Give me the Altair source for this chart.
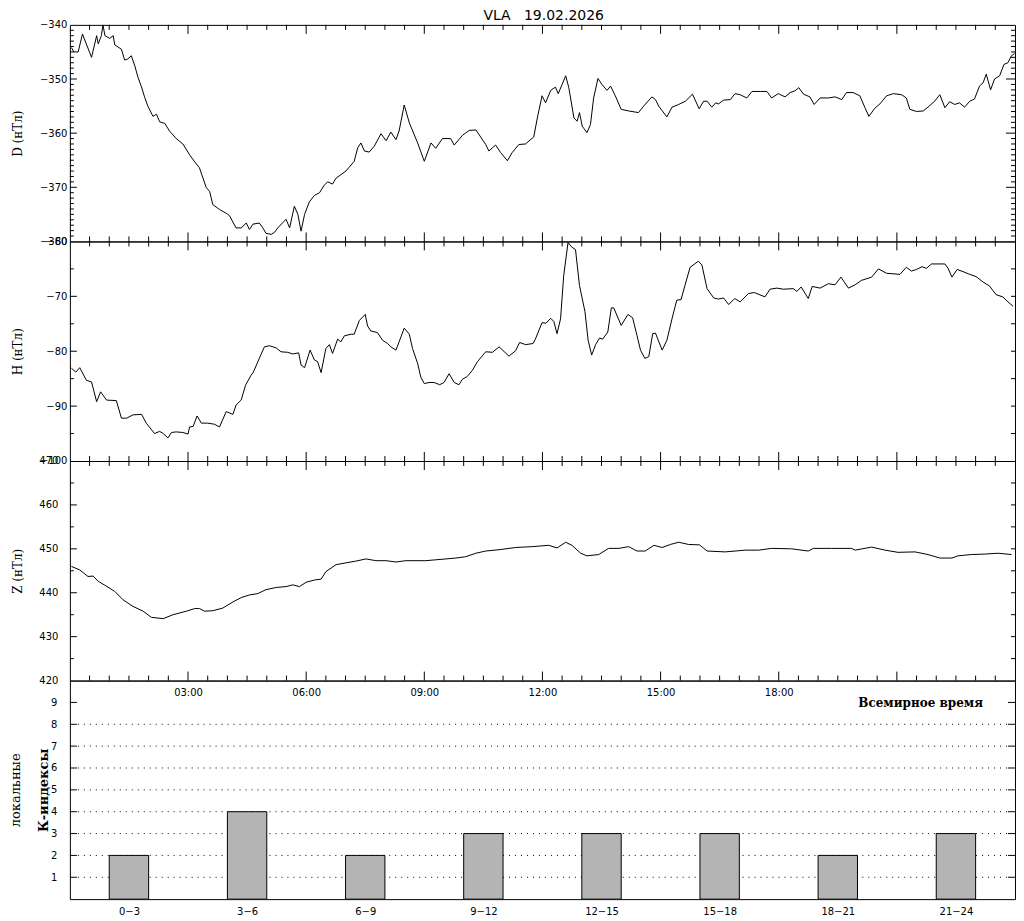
import json
import altair as alt
import pandas as pd

# ---------------- data ----------------
t_d = [0.04, 0.10, 0.21, 0.32, 0.55, 0.68, 0.72, 0.80, 0.84, 0.89, 1.01, 1.10, 1.14, 1.31, 1.39, 1.47,
       1.56, 1.65, 1.73, 1.82, 1.90, 1.98, 2.11, 2.20, 2.28, 2.41, 2.53, 2.70, 2.87, 3.04, 3.17, 3.29,
       3.38, 3.46, 3.55, 3.63, 3.80, 3.97, 4.05, 4.22, 4.35, 4.48, 4.56, 4.65, 4.81, 4.90, 4.98, 5.11,
       5.20, 5.28, 5.41, 5.49, 5.58, 5.70, 5.79, 5.87, 5.96, 6.08, 6.21, 6.34, 6.46, 6.55, 6.67, 6.76,
       7.01, 7.22, 7.31, 7.39, 7.48, 7.60, 7.73, 7.90, 8.03, 8.15, 8.28, 8.36, 8.49, 8.62, 8.83, 9.00,
       9.17, 9.29, 9.46, 9.67, 9.76, 9.97, 10.14, 10.31, 10.56, 10.64, 10.81, 10.94, 11.11, 11.23, 11.40,
       11.57, 11.78, 11.87, 11.99, 12.08, 12.21, 12.33, 12.40, 12.50, 12.59, 12.67, 12.80, 12.88, 12.94,
       13.01, 13.13, 13.22, 13.30, 13.41, 13.51, 13.64, 13.73, 13.85, 14.00, 14.19, 14.44, 14.57, 14.78,
       14.87, 14.95, 15.16, 15.29, 15.46, 15.63, 15.81, 15.98, 16.09, 16.18, 16.30, 16.40, 16.47, 16.60,
       16.77, 16.89, 17.02, 17.19, 17.32, 17.53, 17.70, 17.82, 17.99, 18.16, 18.29, 18.41, 18.51, 18.63,
       18.79, 18.90, 19.05, 19.26, 19.43, 19.60, 19.72, 19.89, 20.06, 20.19, 20.29, 20.44, 20.57, 20.74,
       20.91, 21.12, 21.24, 21.33, 21.50, 21.67, 21.79, 21.96, 22.09, 22.22, 22.34, 22.47, 22.59, 22.72,
       22.85, 22.97, 23.10, 23.19, 23.27, 23.38, 23.48, 23.61, 23.72, 23.82, 23.91, 23.99]
d_vals = [-344.2, -345.0, -345.0, -341.7, -346.0, -342.0, -343.5, -342.0, -340.0, -342.0, -342.5, -342.0,
          -343.7, -344.5, -346.5, -346.3, -345.7, -347.6, -349.7, -351.5, -353.4, -355.0, -356.9, -356.5,
          -357.9, -358.2, -359.6, -361.0, -362.0, -364.0, -365.3, -366.4, -368.3, -370.0, -370.8, -373.2,
          -374.1, -374.8, -375.2, -377.5, -377.5, -376.6, -377.8, -376.8, -376.6, -377.5, -378.5, -378.7,
          -378.3, -377.5, -376.5, -375.9, -377.5, -373.5, -375.0, -378.1, -375.0, -372.7, -371.5, -371.0,
          -369.6, -369.0, -369.4, -368.3, -367.0, -365.2, -362.7, -361.8, -363.3, -363.5, -362.4, -360.1,
          -361.4, -359.8, -361.2, -359.6, -354.8, -358.1, -361.8, -365.2, -361.8, -362.8, -361.0, -361.0,
          -362.2, -360.4, -359.5, -359.4, -362.1, -363.3, -362.2, -363.6, -365.1, -363.6, -362.1, -362.0,
          -360.7, -357.2, -353.1, -354.4, -352.1, -351.5, -352.7, -351.0, -349.4, -351.6, -357.2, -357.8,
          -356.2, -358.7, -359.9, -358.4, -353.5, -349.9, -351.0, -352.1, -351.3, -353.1, -355.6, -355.9,
          -356.2, -355.0, -353.3, -353.8, -355.0, -357.0, -355.2, -354.7, -354.1, -352.8, -355.5, -354.1,
          -354.1, -355.2, -354.4, -354.6, -353.9, -353.8, -352.7, -352.9, -353.5, -352.3, -352.3, -352.3,
          -353.5, -352.7, -353.3, -352.5, -352.2, -351.6, -352.8, -353.3, -354.7, -353.5, -353.5, -353.3,
          -353.8, -352.5, -352.5, -353.1, -355.3, -356.9, -355.4, -354.6, -353.1, -352.7, -352.9, -353.5,
          -355.6, -356.0, -355.9, -355.2, -354.1, -352.9, -355.3, -354.2, -354.7, -354.4, -355.2, -354.1,
          -353.7, -351.3, -350.7, -349.1, -352.0, -350.0, -349.4, -347.3, -347.0, -345.7, -345.3]

t_h = [0.04, 0.15, 0.25, 0.42, 0.55, 0.68, 0.78, 0.93, 1.18, 1.31, 1.44, 1.60, 1.82, 1.94, 2.15, 2.28,
       2.37, 2.49, 2.58, 2.70, 2.87, 3.00, 3.04, 3.13, 3.23, 3.34, 3.50, 3.67, 3.80, 3.97, 4.14, 4.22,
       4.35, 4.46, 4.60, 4.66, 4.81, 4.94, 5.07, 5.24, 5.36, 5.53, 5.66, 5.81, 5.87, 5.96, 6.10, 6.21,
       6.29, 6.38, 6.50, 6.59, 6.67, 6.80, 6.88, 6.97, 7.14, 7.22, 7.35, 7.50, 7.56, 7.64, 7.81, 7.94,
       8.07, 8.15, 8.28, 8.36, 8.49, 8.62, 8.70, 8.83, 8.91, 9.00, 9.12, 9.25, 9.39, 9.50, 9.63, 9.76,
       9.88, 9.97, 10.09, 10.22, 10.35, 10.56, 10.73, 10.90, 11.15, 11.32, 11.42, 11.57, 11.76, 11.82,
       11.99, 12.09, 12.21, 12.29, 12.37, 12.46, 12.54, 12.65, 12.74, 12.84, 12.94, 13.08, 13.16, 13.25,
       13.35, 13.45, 13.53, 13.66, 13.75, 13.81, 14.00, 14.17, 14.29, 14.40, 14.49, 14.60, 14.70, 14.80,
       14.87, 15.04, 15.16, 15.29, 15.41, 15.52, 15.62, 15.75, 15.96, 16.05, 16.18, 16.35, 16.47, 16.60,
       16.73, 16.88, 17.02, 17.23, 17.38, 17.65, 17.78, 17.95, 18.12, 18.37, 18.46, 18.57, 18.75, 18.85,
       19.05, 19.26, 19.43, 19.58, 19.77, 19.94, 20.10, 20.36, 20.53, 20.74, 21.08, 21.24, 21.37, 21.50,
       21.64, 21.75, 21.88, 22.09, 22.22, 22.30, 22.40, 22.53, 22.68, 22.85, 23.01, 23.19, 23.35, 23.52,
       23.69, 23.82, 23.95]
h_vals = [-83.1, -83.8, -83.0, -85.3, -85.6, -89.2, -87.4, -88.9, -89.0, -92.2, -92.2, -91.6, -91.5, -93.1,
          -95.0, -94.6, -95.0, -95.8, -94.8, -94.7, -94.8, -95.1, -93.8, -93.7, -91.8, -93.1, -93.1, -93.3,
          -93.8, -91.0, -91.5, -89.8, -88.9, -86.2, -84.4, -83.8, -81.3, -79.2, -79.0, -79.4, -80.1, -80.2,
          -80.5, -80.3, -82.5, -83.0, -79.8, -81.6, -81.9, -83.9, -79.5, -78.8, -80.4, -77.8, -78.3, -77.2,
          -76.9, -76.9, -74.4, -73.3, -75.4, -76.3, -76.6, -78.0, -78.6, -79.2, -79.8, -78.3, -75.8, -76.9,
          -79.5, -82.2, -84.7, -85.9, -85.7, -85.7, -86.1, -85.7, -84.1, -85.7, -86.1, -85.1, -84.6, -83.5,
          -81.9, -80.1, -80.2, -79.2, -80.9, -79.9, -78.4, -78.8, -78.6, -77.8, -74.8, -74.9, -74.0, -74.6,
          -76.8, -74.1, -66.2, -60.2, -61.0, -61.5, -68.0, -72.8, -78.0, -80.7, -78.8, -77.6, -77.8, -76.5,
          -72.1, -72.1, -75.3, -73.3, -73.9, -77.1, -79.8, -81.3, -81.0, -76.8, -76.7, -79.8, -78.0, -74.1,
          -70.7, -70.6, -68.0, -64.7, -63.6, -64.3, -68.6, -70.3, -70.5, -70.3, -71.5, -70.4, -71.0, -69.5,
          -69.3, -70.1, -68.7, -68.5, -68.7, -68.6, -69.1, -68.3, -70.4, -68.2, -68.5, -67.7, -67.9, -66.5,
          -68.5, -67.9, -67.1, -66.5, -65.0, -65.8, -66.0, -64.7, -65.4, -65.1, -64.6, -64.9, -64.1, -64.1,
          -64.1, -64.9, -66.5, -65.1, -65.5, -66.0, -66.4, -67.4, -68.1, -69.7, -70.1, -71.0, -71.8]

t_z = [0.04, 0.25, 0.46, 0.59, 0.72, 0.89, 1.14, 1.35, 1.60, 1.86, 2.07, 2.37, 2.62, 2.96, 3.17, 3.29,
       3.42, 3.63, 3.88, 4.14, 4.35, 4.56, 4.77, 4.98, 5.24, 5.49, 5.66, 5.83, 6.00, 6.21, 6.38, 6.50,
       6.76, 7.01, 7.26, 7.52, 7.77, 8.03, 8.28, 8.53, 8.79, 9.04, 9.29, 9.55, 9.80, 10.05, 10.31, 10.56,
       10.90, 11.32, 11.74, 12.16, 12.37, 12.59, 12.75, 12.97, 13.13, 13.43, 13.68, 13.94, 14.19, 14.40,
       14.61, 14.83, 15.04, 15.25, 15.46, 15.71, 15.99, 16.18, 16.64, 17.15, 17.49, 17.82, 18.33, 18.75,
       18.88, 19.34, 19.85, 19.94, 20.36, 20.70, 21.03, 21.46, 21.79, 22.09, 22.40, 22.55, 22.89, 23.22,
       23.57, 23.91]
z_vals = [446.0, 445.2, 443.7, 443.8, 442.6, 441.7, 440.3, 438.4, 436.9, 435.8, 434.4, 434.1, 435.0, 435.8,
          436.4, 436.4, 435.8, 435.9, 436.5, 437.9, 438.9, 439.5, 439.8, 440.7, 441.2, 441.4, 441.8, 441.4,
          442.4, 442.9, 443.1, 444.8, 446.4, 446.8, 447.2, 447.7, 447.3, 447.3, 447.0, 447.3, 447.3, 447.3,
          447.5, 447.7, 447.9, 448.2, 449.0, 449.5, 449.8, 450.3, 450.5, 450.8, 450.2, 451.5, 450.8, 449.0,
          448.4, 448.7, 450.1, 450.1, 450.5, 449.5, 449.5, 450.8, 450.3, 451.0, 451.5, 451.0, 450.9, 449.5,
          449.3, 449.7, 449.7, 450.1, 450.0, 449.5, 450.1, 450.1, 450.1, 449.7, 450.4, 449.7, 449.2, 449.3,
          448.7, 447.9, 447.9, 448.4, 448.7, 448.8, 449.0, 448.7]

k_start = [0, 3, 6, 9, 12, 15, 18, 21]
k_labels = ["0\u22123", "3\u22126", "6\u22129", "9\u221212", "12\u221215", "15\u221218", "18\u221221", "21\u221224"]
k_vals = [2, 4, 2, 3, 3, 3, 2, 3]

time_ticks = [3, 6, 9, 12, 15, 18]
time_labels = ["03:00", "06:00", "09:00", "12:00", "15:00", "18:00"]

title_text = "VLA\u00a0\u00a0\u00a019.02.2026"
x_title = "Всемирное время"

# tick positions
major_x = [3, 6, 9, 12, 15, 18, 21]
minor_x = [i * 0.5 for i in range(1, 48) if i % 6 != 0]

# ---------------- styling ----------------
W = 947
SANS = "DejaVu Sans"
SERIF = "DejaVu Serif"
XS = alt.Scale(domain=[0, 24], nice=False, zero=False)


def label_axis(orient, values, pad, **kw):
    return alt.Axis(orient=orient, values=list(values), ticks=False, labels=True, labelPadding=pad,
                    domain=False, grid=False, labelFlush=False, labelOverlap=False, labelColor="black",
                    labelFont=SANS, labelFontSize=10, **kw)


def ytitle_kw(text, h, x, size=12):
    return dict(title=text, titleX=x, titleY=h / 2, titleAngle=270, titleBaseline="middle",
                titleAlign="center", titleFont=SERIF, titleFontSize=size, titleFontWeight="normal",
                titleColor="black")


def xenc(field, axis):
    if axis is None:
        return alt.X(field, scale=XS, axis=None)
    return alt.X(field, scale=XS, axis=axis)


def xtick_rules(vals, size, h, top, xaxis):
    y0 = 0 if top else h
    y1 = size if top else h - size
    return alt.Chart(pd.DataFrame({"t": vals})).mark_rule(color="black", strokeWidth=1).encode(
        x=xenc("t:Q", xaxis), y=alt.value(y0), y2=alt.value(y1))


def ytick_rules(vals, size, ys, right, yaxis):
    x0 = W if right else 0
    x1 = W - size if right else size
    return alt.Chart(pd.DataFrame({"v": vals})).mark_rule(color="black", strokeWidth=1).encode(
        y=alt.Y("v:Q", scale=ys, axis=yaxis), x=alt.value(x0), x2=alt.value(x1))


def line_panel(t, v, dom, h, ylab_vals, ylab_pad, yl_major, yl_minor, yr_major, yr_major_size,
               yr_minor, ytitle, xaxis=None):
    df = pd.DataFrame({"t": t, "v": v})
    ys = alt.Scale(domain=dom, nice=False, zero=False)
    yaxis = label_axis("left", ylab_vals, ylab_pad, **ytitle_kw(ytitle, h, -52))
    line = alt.Chart(df).mark_line(color="black", strokeWidth=1, clip=True).encode(
        x=xenc("t:Q", xaxis),
        y=alt.Y("v:Q", scale=ys, axis=yaxis),
    )
    layers = [
        line,
        xtick_rules(major_x, 9, h, False, xaxis), xtick_rules(major_x, 9, h, True, xaxis),
        xtick_rules(minor_x, 5, h, False, xaxis), xtick_rules(minor_x, 5, h, True, xaxis),
        ytick_rules(yl_major, 7, ys, False, yaxis), ytick_rules(yl_minor, 4, ys, False, yaxis),
        ytick_rules(yr_major, yr_major_size, ys, True, yaxis), ytick_rules(yr_minor, 4, ys, True, yaxis),
    ]
    return alt.layer(*layers).properties(width=W, height=h)


p1_minor = [v for v in range(-379, -340) if v % 10 != 0]
p1 = line_panel(
    t_d, d_vals, [-380, -340], 217,
    [-380, -370, -360, -350, -340], 3,
    [-370, -360, -350], p1_minor,
    [-370, -360, -350], 9, p1_minor,
    "D (нТл)")

p2 = line_panel(
    t_h, h_vals, [-100, -60], 220,
    [-100, -90, -80, -70, -60], 3,
    [-90, -80, -70], [-95, -85, -75, -65],
    [-90, -80, -70], 4, [-95, -85, -75, -65],
    "H (нТл)")

time_expr = (f"indexof({json.dumps(time_ticks)}, datum.value) >= 0 ? "
             f"{json.dumps(time_labels)}[indexof({json.dumps(time_ticks)}, datum.value)] : ''")
x3_axis = label_axis("bottom", time_ticks, 7, labelExpr=time_expr,
                     title=x_title, titleX=852, titleY=22, titleAlign="center", titleBaseline="middle",
                     titleFont=SERIF, titleFontSize=12, titleFontWeight="bold", titleColor="black")

p3 = line_panel(
    t_z, z_vals, [420, 470], 220,
    [420, 430, 440, 450, 460, 470], 12,
    [430, 440, 450, 460], [425, 435, 445, 455, 465],
    [430, 440, 450, 460], 4, [425, 435, 445, 455, 465],
    "Z (нТл)", xaxis=x3_axis)

# ---------------- K-index panel ----------------
kdf = pd.DataFrame({"start": k_start, "k": k_vals})
k_centers = [s + 1.5 for s in k_start]
k_expr = (f"indexof({json.dumps(k_centers)}, datum.value) >= 0 ? "
          f"{json.dumps(k_labels, ensure_ascii=False)}[indexof({json.dumps(k_centers)}, datum.value)] : ''")
YS4 = alt.Scale(domain=[0, 10], nice=False, zero=True)
k_levels = list(range(1, 10))
grid_levels = list(range(1, 9))
k_yaxis = label_axis("left", k_levels, 13, **ytitle_kw("локальные", 219, -54, 13))

bars = alt.Chart(kdf).transform_calculate(x0="datum.start + 1", x1="datum.start + 2").mark_bar(
    color="#b4b4b4", stroke="black", strokeWidth=1).encode(
    x=alt.X("x0:Q", scale=XS, axis=label_axis("bottom", k_centers, 7, labelExpr=k_expr, title=None)),
    x2="x1:Q",
    y=alt.Y("k:Q", scale=YS4, axis=k_yaxis),
    y2=alt.datum(0),
)
grid = alt.Chart(pd.DataFrame({"v": grid_levels})).mark_rule(
    color="black", strokeWidth=1, strokeDash=[1, 5]).encode(
    y=alt.Y("v:Q", scale=YS4, axis=k_yaxis), x=alt.value(8), x2=alt.value(W - 8))
ktitle = alt.Chart(pd.DataFrame({"s": ["К-индексы"]})).mark_text(
    angle=270, font=SERIF, fontSize=13, fontWeight="bold", color="black", baseline="middle",
    align="center").encode(text="s:N", x=alt.value(-26), y=alt.value(110))
p4 = alt.layer(grid, bars, ytick_rules(k_levels, 7, YS4, False, k_yaxis),
               ytick_rules(k_levels, 7, YS4, True, k_yaxis), ktitle).properties(width=W, height=219)

chart = alt.VConcatChart(vconcat=[p1, p2, p3, p4], spacing=0, bounds="flush").properties(
    title=alt.TitleParams(text=title_text, font=SANS, fontSize=14, fontWeight="normal",
                          anchor="middle", offset=-4, dx=31, color="black"),
    padding={"left": 1, "top": 0, "right": 0, "bottom": 0},
).configure_view(stroke="black", strokeWidth=1)

chart.save("out.html", embed_options={"renderer": "svg", "actions": False})
